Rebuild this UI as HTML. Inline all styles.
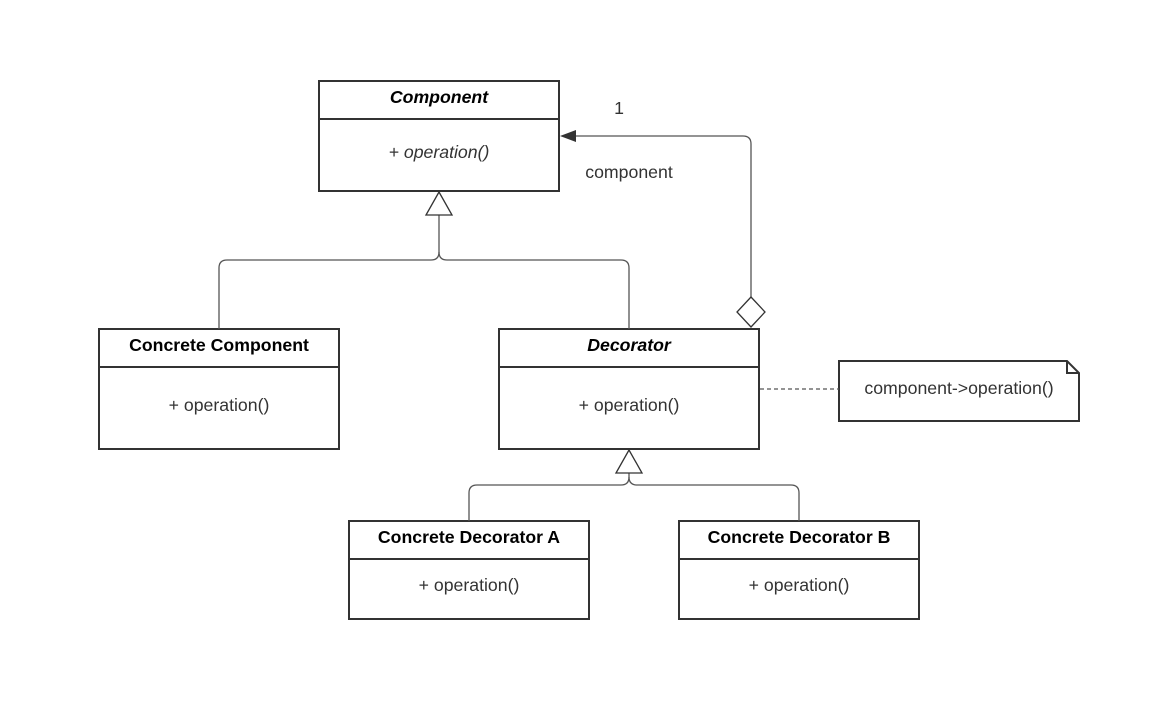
<!DOCTYPE html>
<html><head><meta charset="utf-8"><style>
html,body{margin:0;padding:0;background:#fff;}
svg{display:block;}
text{font-family:"Liberation Sans",sans-serif;font-size:17.7px;fill:#333;}
.b{font-weight:bold;fill:#000;}
</style></head><body>
<svg width="1168" height="708" viewBox="0 0 1168 708" xmlns="http://www.w3.org/2000/svg">
<g fill="#fff" stroke="#333" stroke-width="2">
<rect x="319" y="81" width="240" height="110"/><line x1="319" y1="119" x2="559" y2="119"/>
<rect x="99" y="329" width="240" height="120"/><line x1="99" y1="367" x2="339" y2="367"/>
<rect x="499" y="329" width="260" height="120"/><line x1="499" y1="367" x2="759" y2="367"/>
<rect x="349" y="521" width="240" height="98"/><line x1="349" y1="559" x2="589" y2="559"/>
<rect x="679" y="521" width="240" height="98"/><line x1="679" y1="559" x2="919" y2="559"/>
<path d="M839 361 H1067 L1079 373 V421 H839 Z"/>
<path d="M1067 361 V373 H1079" fill="none"/>
</g>
<g fill="none" stroke="#555" stroke-width="1.3">
<path d="M439 215 V252 Q439 260 431 260 H227 Q219 260 219 268 V329"/>
<path d="M439 252 Q439 260 447 260 H621 Q629 260 629 268 V329"/>
<path d="M629 473 V477 Q629 485 621 485 H477 Q469 485 469 493 V521"/>
<path d="M629 477 Q629 485 637 485 H791 Q799 485 799 493 V521"/>
<path d="M751 297 V144 Q751 136 743 136 H574"/>
<line x1="760" y1="389" x2="839" y2="389" stroke-dasharray="4,3"/>
</g>
<g fill="#fff" stroke="#333" stroke-width="1.3">
<polygon points="439,192 426,215 452,215"/>
<polygon points="629,450 616,473 642,473"/>
<polygon points="751,297 765,312 751,327 737,312"/>
</g>
<polygon points="560,136 576,130 576,142" fill="#333"/>
<text x="439" y="103" text-anchor="middle" class="b" font-style="italic">Component</text>
<text x="439" y="158" text-anchor="middle" font-style="italic">+ operation()</text>
<text x="219" y="351" text-anchor="middle" class="b">Concrete Component</text>
<text x="219" y="411" text-anchor="middle">+ operation()</text>
<text x="629" y="351" text-anchor="middle" class="b" font-style="italic">Decorator</text>
<text x="629" y="411" text-anchor="middle">+ operation()</text>
<text x="469" y="543" text-anchor="middle" class="b">Concrete Decorator A</text>
<text x="469" y="591" text-anchor="middle">+ operation()</text>
<text x="799" y="543" text-anchor="middle" class="b">Concrete Decorator B</text>
<text x="799" y="591" text-anchor="middle">+ operation()</text>
<text x="959" y="394" text-anchor="middle">component-&gt;operation()</text>
<text x="619" y="114" text-anchor="middle">1</text>
<text x="629" y="178" text-anchor="middle">component</text>
</svg>
</body></html>
